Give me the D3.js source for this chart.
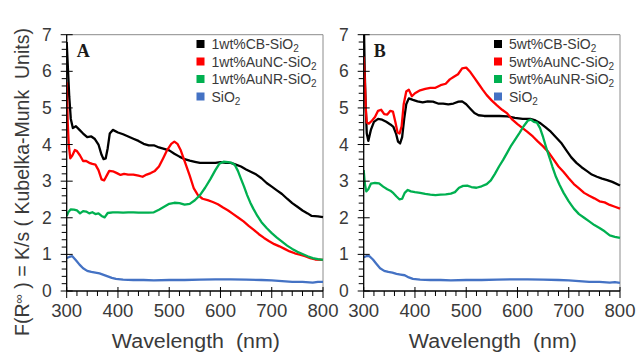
<!DOCTYPE html>
<html><head><meta charset="utf-8">
<script src="https://cdn.jsdelivr.net/npm/d3@7"></script>
<style>body{margin:0;background:#fff}svg{display:block}</style>
</head><body>
<svg id="c" width="638" height="356"></svg>
<script>
// ---------- DATA ----------
const xTicks = [300,400,500,600,700,800];
const yTicks = [0,1,2,3,4,5,6,7];

const legendA = ["1wt%CB-SiO", "1wt%AuNC-SiO", "1wt%AuNR-SiO", "SiO"];
const legendB = ["5wt%CB-SiO", "5wt%AuNC-SiO", "5wt%AuNR-SiO", "SiO"];

// Panel A : [wavelength (nm), F(R)]
const a_CB = [[300,6.8],[302,6.2],[305,5.3],[308,4.7],[312,4.45],[318,4.5],[325,4.4],[332,4.3],[340,4.2],[348,4.22],[355,4.15],[362,4.0],[368,3.72],[372,3.6],[376,3.62],[380,3.9],[384,4.3],[390,4.4],[400,4.33],[410,4.28],[420,4.22],[430,4.16],[440,4.1],[450,4.02],[460,3.98],[470,3.98],[480,3.92],[490,3.88],[500,3.84],[510,3.75],[520,3.67],[530,3.6],[540,3.56],[550,3.53],[560,3.5],[570,3.5],[580,3.5],[590,3.5],[600,3.52],[610,3.5],[620,3.5],[630,3.45],[640,3.4],[650,3.32],[660,3.25],[670,3.18],[680,3.08],[690,2.95],[700,2.85],[710,2.75],[720,2.65],[730,2.52],[740,2.4],[750,2.3],[760,2.2],[770,2.12],[778,2.05],[790,2.04],[800,2.02]];
const a_NC = [[300,5.7],[302,4.6],[304,4.0],[307,3.62],[311,3.7],[316,3.85],[320,3.82],[326,3.7],[332,3.55],[338,3.55],[344,3.5],[350,3.47],[356,3.45],[362,3.3],[368,3.05],[373,3.02],[378,3.15],[383,3.28],[390,3.27],[398,3.22],[405,3.17],[412,3.2],[420,3.18],[430,3.18],[440,3.15],[448,3.12],[456,3.18],[464,3.22],[472,3.28],[480,3.4],[488,3.62],[496,3.85],[504,4.02],[510,4.08],[516,4.02],[522,3.86],[530,3.55],[540,3.15],[548,2.8],[556,2.62],[565,2.52],[575,2.48],[585,2.43],[595,2.37],[605,2.28],[615,2.2],[625,2.1],[635,2.0],[645,1.9],[655,1.78],[665,1.67],[675,1.55],[685,1.45],[695,1.36],[705,1.28],[715,1.22],[725,1.15],[735,1.08],[745,1.03],[755,0.99],[765,0.95],[775,0.9],[785,0.86],[800,0.85]];
const a_NR = [[300,2.05],[303,2.15],[308,2.23],[314,2.22],[320,2.2],[326,2.12],[332,2.18],[338,2.17],[344,2.12],[350,2.15],[356,2.1],[362,2.12],[368,2.05],[374,2.01],[380,2.13],[390,2.15],[400,2.15],[410,2.14],[420,2.15],[430,2.15],[440,2.14],[450,2.14],[460,2.14],[470,2.15],[480,2.22],[490,2.3],[500,2.38],[510,2.41],[520,2.4],[530,2.36],[540,2.38],[550,2.48],[560,2.62],[570,2.82],[580,3.05],[590,3.3],[598,3.48],[606,3.53],[615,3.52],[622,3.5],[628,3.44],[634,3.28],[640,3.06],[646,2.85],[652,2.62],[658,2.42],[664,2.25],[672,2.05],[680,1.88],[690,1.72],[700,1.58],[710,1.46],[720,1.35],[730,1.24],[740,1.15],[750,1.07],[760,1.01],[770,0.95],[780,0.9],[790,0.87],[800,0.85]];
const a_Si = [[300,0.9],[305,0.93],[311,0.95],[318,0.84],[325,0.72],[332,0.62],[340,0.55],[348,0.52],[356,0.5],[364,0.48],[372,0.44],[380,0.4],[388,0.36],[396,0.33],[410,0.31],[430,0.3],[450,0.3],[470,0.29],[500,0.3],[530,0.3],[560,0.31],[590,0.32],[620,0.32],[650,0.31],[680,0.3],[700,0.29],[720,0.27],[740,0.25],[760,0.25],[780,0.23],[790,0.25],[800,0.25]];

// Panel B
const b_CB = [[300,7.6],[302,6.0],[304,5.0],[306,4.3],[309,4.1],[314,4.4],[320,4.62],[328,4.7],[336,4.68],[344,4.62],[352,4.55],[358,4.48],[363,4.3],[367,4.08],[371,4.03],[375,4.2],[379,4.7],[383,5.1],[388,5.26],[396,5.22],[405,5.18],[415,5.15],[425,5.18],[435,5.17],[445,5.12],[455,5.12],[465,5.1],[475,5.12],[485,5.17],[492,5.18],[500,5.1],[508,4.98],[516,4.86],[524,4.8],[535,4.78],[550,4.78],[565,4.78],[580,4.77],[595,4.73],[610,4.7],[625,4.7],[635,4.66],[645,4.58],[655,4.47],[665,4.35],[675,4.2],[685,4.05],[695,3.85],[705,3.65],[715,3.5],[725,3.38],[735,3.28],[745,3.18],[755,3.12],[765,3.07],[775,3.03],[785,2.98],[800,2.88]];
const b_NC = [[300,6.4],[302,5.8],[304,5.0],[306,4.6],[310,4.57],[316,4.65],[322,4.75],[328,4.92],[334,4.95],[340,4.83],[346,4.82],[352,4.92],[357,4.9],[362,4.6],[366,4.33],[370,4.3],[374,4.5],[378,5.1],[383,5.45],[388,5.5],[394,5.32],[400,5.4],[410,5.48],[420,5.52],[430,5.55],[440,5.55],[450,5.62],[460,5.66],[468,5.78],[476,5.85],[484,5.92],[492,6.08],[500,6.1],[508,5.98],[516,5.82],[524,5.66],[532,5.5],[540,5.35],[550,5.2],[560,5.07],[570,4.95],[580,4.85],[590,4.68],[600,4.56],[610,4.45],[620,4.34],[630,4.22],[640,4.08],[650,3.95],[660,3.8],[670,3.6],[680,3.4],[690,3.25],[700,3.08],[710,2.92],[720,2.8],[730,2.68],[740,2.6],[750,2.53],[760,2.45],[770,2.42],[780,2.35],[790,2.3],[800,2.25]];
const b_NR = [[300,3.3],[302,2.95],[305,2.72],[309,2.78],[314,2.93],[322,2.95],[330,2.94],[338,2.85],[346,2.78],[352,2.74],[358,2.67],[364,2.58],[370,2.5],[375,2.52],[380,2.68],[386,2.76],[392,2.72],[400,2.7],[410,2.68],[420,2.65],[430,2.63],[440,2.62],[450,2.63],[460,2.64],[470,2.66],[478,2.7],[486,2.82],[494,2.87],[502,2.88],[510,2.84],[520,2.82],[530,2.86],[540,2.92],[548,3.02],[556,3.2],[564,3.4],[572,3.58],[580,3.78],[588,3.98],[596,4.15],[604,4.32],[612,4.5],[620,4.65],[626,4.68],[632,4.62],[638,4.6],[644,4.45],[650,4.2],[656,3.92],[662,3.66],[668,3.4],[675,3.12],[682,2.9],[690,2.68],[700,2.45],[710,2.25],[720,2.1],[730,2.0],[740,1.9],[750,1.8],[760,1.72],[770,1.63],[780,1.52],[790,1.48],[800,1.45]];
const b_Si = [[300,0.92],[305,0.95],[311,0.95],[318,0.86],[325,0.74],[332,0.62],[340,0.55],[348,0.52],[356,0.5],[364,0.47],[372,0.45],[380,0.43],[388,0.37],[396,0.33],[410,0.31],[430,0.3],[450,0.3],[470,0.29],[500,0.3],[530,0.3],[560,0.31],[590,0.32],[620,0.32],[650,0.31],[680,0.3],[700,0.29],[720,0.27],[740,0.25],[760,0.25],[780,0.23],[790,0.24],[800,0.22]];

// ---------- DRAW ----------
const colors = ["#000000", "#ff0000", "#00b050", "#4472c4"];
const svg = d3.select("#c");
const plotTop = 34.7, plotBottom = 291;
const FONT = "'Liberation Sans', Arial, sans-serif";

function panel(x0, x1, series, legend, letter, idx, legX) {
  const x = d3.scaleLinear().domain([300, 800]).range([x0, x1]);
  const y = d3.scaleLinear().domain([0, 7]).range([plotBottom, plotTop]);
  const g = svg.append("g");

  g.append("line").attr("x1", x0).attr("x2", x1).attr("y1", plotTop).attr("y2", plotTop).attr("stroke", "#8c8c8c").attr("stroke-width", 1);
  g.append("line").attr("x1", x1).attr("x2", x1).attr("y1", plotTop).attr("y2", plotBottom).attr("stroke", "#8c8c8c").attr("stroke-width", 1);

  const clipId = "clip" + idx;
  svg.append("clipPath").attr("id", clipId).append("rect")
    .attr("x", x0).attr("y", plotTop).attr("width", x1 - x0 + 1).attr("height", plotBottom - plotTop);

  const line = d3.line().x(d => x(d[0])).y(d => y(d[1]));
  series.forEach((s, i) => {
    g.append("path").datum(s).attr("d", line).attr("fill", "none")
      .attr("stroke", colors[i]).attr("stroke-width", 2.3)
      .attr("stroke-linejoin", "round").attr("clip-path", `url(#${clipId})`);
  });

  const xMinor = d3.range(300, 801, 20).filter(v => v % 100 !== 0);
  const yMinor = d3.range(0, 7.01, 0.2).map(v => +v.toFixed(1)).filter(v => Math.abs(v - Math.round(v)) > 0.01);

  const ax = g.append("g").attr("stroke", "#000");
  ax.append("line").attr("x1", x0).attr("x2", x1).attr("y1", plotBottom).attr("y2", plotBottom).attr("stroke-width", 1.3);
  ax.append("line").attr("x1", x0).attr("x2", x0).attr("y1", plotTop).attr("y2", plotBottom).attr("stroke-width", 1.3);
  ax.selectAll(".xm").data(xTicks).join("line").attr("x1", d => x(d)).attr("x2", d => x(d)).attr("y1", plotBottom - 4).attr("y2", plotBottom + 7).attr("stroke-width", 1);
  ax.selectAll(".xn").data(xMinor).join("line").attr("x1", d => x(d)).attr("x2", d => x(d)).attr("y1", plotBottom).attr("y2", plotBottom + 5).attr("stroke-width", 1);
  ax.selectAll(".ym").data(yTicks).join("line").attr("y1", d => y(d)).attr("y2", d => y(d)).attr("x1", x0 - 6).attr("x2", x0 + 6).attr("stroke-width", 1);
  ax.selectAll(".yn").data(yMinor).join("line").attr("y1", d => y(d)).attr("y2", d => y(d)).attr("x1", x0 - 5).attr("x2", x0).attr("stroke-width", 1);

  g.selectAll(".xl").data(xTicks).join("text").attr("x", d => x(d)).attr("y", plotBottom + 26)
    .attr("text-anchor", "middle").attr("font-family", FONT).attr("font-size", 17.5).attr("fill", "#3a3a3a")
    .attr("textLength", 31).attr("lengthAdjust", "spacingAndGlyphs").text(d => d);
  g.selectAll(".yl").data(yTicks).join("text").attr("x", x0 - 15).attr("y", d => y(d) + 6)
    .attr("text-anchor", "end").attr("font-family", FONT).attr("font-size", 17.5).attr("fill", "#3a3a3a").text(d => d);

  g.append("text").attr("x", (x0 + x1) / 2 + 1).attr("y", 348).attr("text-anchor", "middle")
    .attr("font-family", FONT).attr("font-size", 19.5).attr("fill", "#3a3a3a")
    .attr("textLength", 168).attr("lengthAdjust", "spacingAndGlyphs")
    .text("Wavelength\u00a0 (nm)");

  g.append("text").attr("x", x0 + 10).attr("y", 57).attr("font-family", "'Liberation Serif', 'Times New Roman', serif")
    .attr("font-weight", "bold").attr("font-size", 18).attr("fill", "#1a1a1a").text(letter);

  const rows = [44, 61.5, 79, 96.5];
  legend.forEach((t, i) => {
    g.append("rect").attr("x", legX).attr("y", rows[i] - 4).attr("width", 8).attr("height", 8).attr("fill", colors[i]);
    const tx = g.append("text").attr("x", legX + 15).attr("y", rows[i] + 5)
      .attr("font-family", FONT).attr("font-size", 14).attr("fill", "#3a3a3a");
    tx.append("tspan").text(t);
    tx.append("tspan").attr("font-size", 10).attr("dy", 3).text("2");
  });
}

panel(66.7, 323, [a_CB, a_NC, a_NR, a_Si], legendA, "A", 0, 196.5);
panel(363.7, 620, [b_CB, b_NC, b_NR, b_Si], legendB, "B", 1, 494);

const yt = svg.append("text").attr("transform", "translate(29,182) rotate(-90)")
  .attr("text-anchor", "middle").attr("font-family", FONT).attr("font-size", 19.5).attr("fill", "#3a3a3a");
yt.append("tspan").text("F(R");
yt.append("tspan").attr("font-size", 13).attr("dy", -6).text("\u221E");
yt.append("tspan").attr("dy", 6).text(" ) = K/s ( Kubelka-Munk\u00a0 Units)");
</script>
</body></html>
